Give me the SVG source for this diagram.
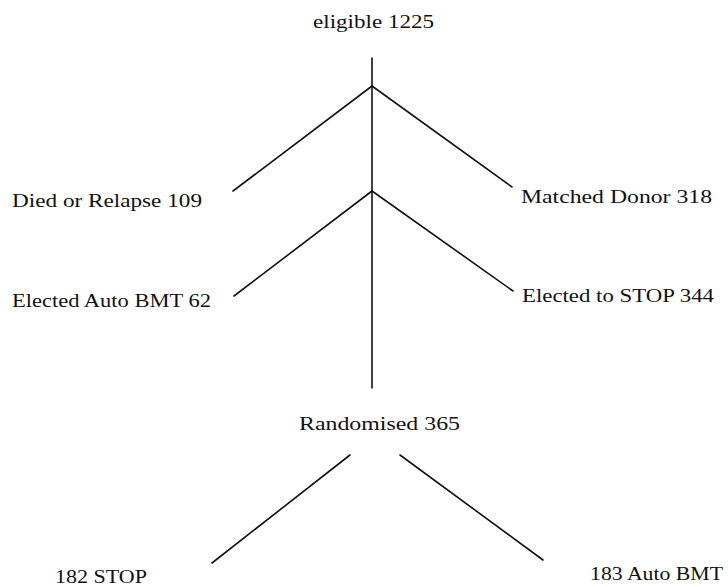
<svg xmlns="http://www.w3.org/2000/svg" width="728" height="587" viewBox="0 0 728 587">
  <style>
    .lbl { font-family: "Liberation Serif", "DejaVu Serif", serif; font-size: 18px; fill: #111; }
    .edge { stroke: #111; stroke-width: 1.6; fill: none; stroke-linecap: round; }
  </style>
  <rect width="728" height="587" fill="#fff"/>
  <g id="connectors">
    <line class="edge" x1="372" y1="58" x2="372" y2="388"/>
    <line class="edge" x1="372" y1="86" x2="233" y2="191"/>
    <line class="edge" x1="372" y1="86" x2="512" y2="187"/>
    <line class="edge" x1="372" y1="191" x2="234" y2="296"/>
    <line class="edge" x1="372" y1="191" x2="513" y2="291"/>
    <line class="edge" x1="350" y1="455" x2="212" y2="563"/>
    <line class="edge" x1="400" y1="455" x2="543" y2="560"/>
  </g>
  <g id="eligible"><text class="lbl" x="313" y="28" textLength="121" lengthAdjust="spacingAndGlyphs">eligible 1225</text></g>
  <g id="died"><text class="lbl" x="12" y="207" textLength="190" lengthAdjust="spacingAndGlyphs">Died or Relapse 109</text></g>
  <g id="matched"><text class="lbl" x="521" y="203" textLength="191" lengthAdjust="spacingAndGlyphs">Matched Donor 318</text></g>
  <g id="auto"><text class="lbl" x="12" y="307" textLength="199" lengthAdjust="spacingAndGlyphs">Elected Auto BMT 62</text></g>
  <g id="stop"><text class="lbl" x="522" y="302" textLength="192" lengthAdjust="spacingAndGlyphs">Elected to STOP 344</text></g>
  <g id="randomised"><text class="lbl" x="299" y="430" textLength="161" lengthAdjust="spacingAndGlyphs">Randomised 365</text></g>
  <g id="arm-stop"><text class="lbl" x="55" y="583" textLength="92" lengthAdjust="spacingAndGlyphs">182 STOP</text></g>
  <g id="arm-auto"><text class="lbl" x="590" y="580" textLength="133" lengthAdjust="spacingAndGlyphs">183 Auto BMT</text></g>
</svg>
